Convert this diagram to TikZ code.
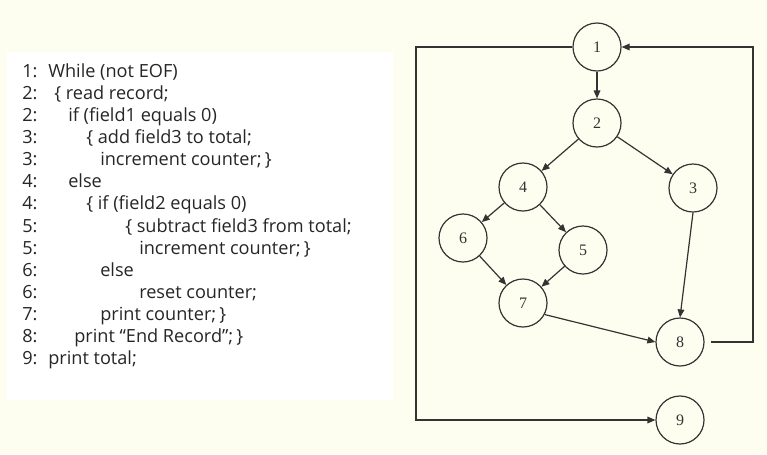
\documentclass[tikz,border=0pt]{standalone}
\usepackage{fontspec}
\setmainfont{Open Sans}
\newfontfamily\numfont{Liberation Serif}
\usetikzlibrary{arrows.meta}
\definecolor{cream}{HTML}{FEFEF0}
\definecolor{ink}{HTML}{333333}
\definecolor{codeink}{HTML}{262626}
\tikzset{
  state/.style={circle,draw=ink,line width=0.9pt,minimum size=36pt,inner sep=0pt,
    font=\numfont\fontsize{12}{12}\selectfont,text=ink},
  edge/.style={draw=ink,line width=0.9pt,-{Triangle[length=6pt,width=5pt]}},
  codenum/.style={anchor=base west,inner sep=0pt,text=codeink,font=\fontsize{13.6}{15}\selectfont},
  codetxt/.style={anchor=base west,inner sep=0pt,text=codeink,font=\fontsize{13.6}{15}\selectfont},
}
\newcommand\codeline[4]{%
  \node[codenum] (ln#1) at (22,{77+(#1-1)*22.15}) {#2:};
  \node[codetxt] (lt#1) at (#3,{77+(#1-1)*22.15}) {#4};}
\begin{document}
\begin{tikzpicture}[x=0.75pt,y=-0.75pt]
\fill[cream] (0,0) rectangle (767,454);
\useasboundingbox (0,0) rectangle (767,454);
\fill[white] (7,52) rectangle (393,400);
\codeline{1}{1}{48}{While (not EOF)}
\codeline{2}{2}{54}{\{ read record;}
\codeline{3}{2}{68}{if (field1 equals 0)}
\codeline{4}{3}{86}{\{ add field3 to total;}
\codeline{5}{3}{100}{increment counter;\,\}}
\codeline{6}{4}{68}{else}
\codeline{7}{4}{86}{\{ if (field2 equals 0)}
\codeline{8}{5}{125}{\{ subtract field3 from total;}
\codeline{9}{5}{139}{increment counter;\,\}}
\codeline{10}{6}{100}{else}
\codeline{11}{6}{139}{reset counter;}
\codeline{12}{7}{100}{print counter;\,\}}
\codeline{13}{8}{74}{print “End Record”;\,\}}
\codeline{14}{9}{48}{print total;}

\node[state] (c1) at (597,47) {1};
\node[state] (c2) at (597,123) {2};
\node[state] (c3) at (693,188) {3};
\node[state] (c4) at (523,187) {4};
\node[state] (c5) at (583,250) {5};
\node[state] (c6) at (463,238) {6};
\node[state] (c7) at (523,303) {7};
\node[state] (c8) at (680,342) {8};
\node[state] (c9) at (680,420) {9};

\draw[edge] (c1) -- (c2);
\draw[edge] (c2) -- (c4);
\draw[edge] (c2) -- (c3);
\draw[edge] (c4) -- (c6);
\draw[edge] (c4) -- (c5);
\draw[edge] (c6) -- (c7);
\draw[edge] (c5) -- (c7);
\draw[edge] (c3.south) -- (c8.north);
\draw[edge] (c7.-28) -- (c8.west);
\coordinate (rt) at (753,342);
\draw[edge,shorten <=5pt] (c8.east) -- (rt) |- (c1.east);
\coordinate (lft) at (416,47);
\draw[edge] (c1.west) -- (lft) |- (c9.west);
\end{tikzpicture}
\end{document}
